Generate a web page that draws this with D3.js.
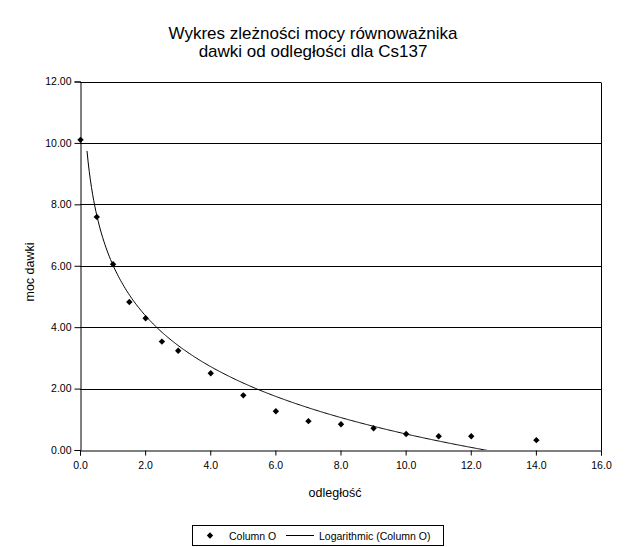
<!DOCTYPE html>
<html>
<head>
<meta charset="utf-8">
<script src="https://cdn.jsdelivr.net/npm/d3@7"></script>
<style>
  html, body { margin: 0; padding: 0; background: #fff; }
  svg { display: block; font-family: "Liberation Sans", Arial, sans-serif; }
</style>
</head>
<body>
<svg id="chart" width="630" height="547"></svg>
<script>
// ---- data ----
const distances = [0, 0.5, 1, 1.5, 2, 2.5, 3, 4, 5, 6, 7, 8, 9, 10, 11, 12, 14];
const doseRates = [10.10, 7.59, 6.05, 4.82, 4.29, 3.53, 3.23, 2.50, 1.78, 1.26, 0.94, 0.84, 0.71, 0.52, 0.45, 0.45, 0.32];
const xTicks = [0, 2, 4, 6, 8, 10, 12, 14, 16];
const yTicks = [0, 2, 4, 6, 8, 10, 12];
// logarithmic trendline y = a*ln(x) + b (coefficients)
const trendCoef = [-2.40, 6.05];
const trendRange = [0.215, 14];
const titleLines = ["Wykres zleżności mocy równoważnika", "dawki od odległości dla Cs137"];
const xTitle = "odległość";
const yTitle = "moc dawki";
const legendLabels = ["Column O", "Logarithmic (Column O)"];

// ---- layout ----
const svg = d3.select("#chart");
const L = 80, R = 601, T = 81.5, B = 450;
const x = d3.scaleLinear().domain([0, 16]).range([L, R]);
const y = d3.scaleLinear().domain([0, 12]).range([B, T]);

svg.append("rect").attr("width", 630).attr("height", 547).attr("fill", "#fff");

// title
svg.append("g").selectAll("text").data(titleLines).join("text")
  .attr("x", 313).attr("y", (d, i) => 38.5 + i * 18.5)
  .attr("text-anchor", "middle").attr("font-size", "17px").attr("fill", "#000")
  .text(d => d);

// gridlines
svg.append("g").selectAll("line").data(yTicks.filter(v => v > 0)).join("line")
  .attr("x1", L).attr("x2", R)
  .attr("y1", d => Math.round(y(d)) + 0.5).attr("y2", d => Math.round(y(d)) + 0.5)
  .attr("stroke", "#000").attr("stroke-width", 1);

// right border
svg.append("line").attr("x1", R + 0.5).attr("x2", R + 0.5)
  .attr("y1", Math.round(T) + 0.5).attr("y2", B + 0.5)
  .attr("stroke", "#000");

// axes
const yAxis = d3.axisLeft(y).tickValues(yTicks).tickFormat(d3.format(".2f")).tickSizeOuter(0).tickSize(6).tickPadding(3);
const gy = svg.append("g").attr("transform", `translate(${L + 0.5},0)`).call(yAxis);
gy.selectAll("text").attr("font-size", "10.5px").attr("fill", "#000").attr("font-family", "Liberation Sans, Arial, sans-serif");
gy.selectAll(".tick line").attr("stroke", "#000");
gy.select(".domain").attr("stroke", "#000");

const xAxis = d3.axisBottom(x).tickValues(xTicks).tickFormat(d3.format(".1f")).tickSizeOuter(0).tickSize(5).tickPadding(6);
const gx = svg.append("g").attr("transform", `translate(0,${B + 0.5})`).call(xAxis);
gx.selectAll("text").attr("font-size", "10.5px").attr("fill", "#000").attr("font-family", "Liberation Sans, Arial, sans-serif");
gx.selectAll(".tick line").attr("stroke", "#000");
gx.select(".domain").attr("stroke", "#000");

// axis titles
svg.append("text").attr("x", 335).attr("y", 497).attr("text-anchor", "middle")
  .attr("font-size", "12.5px").attr("fill", "#000").text(xTitle);
svg.append("text").attr("transform", `translate(34,272) rotate(-90)`)
  .attr("text-anchor", "middle").attr("font-size", "12.5px").attr("fill", "#000").text(yTitle);

// clip
svg.append("clipPath").attr("id", "plotclip").append("rect")
  .attr("x", L).attr("y", T).attr("width", R - L).attr("height", B - T);

// trendline
const nS = 400;
const trendPts = d3.range(nS + 1).map(i => {
  const xv = trendRange[0] + (trendRange[1] - trendRange[0]) * i / nS;
  return [xv, trendCoef[0] * Math.log(xv) + trendCoef[1]];
});
svg.append("path").attr("clip-path", "url(#plotclip)")
  .datum(trendPts)
  .attr("d", d3.line().x(d => x(d[0])).y(d => y(d[1])))
  .attr("fill", "none").attr("stroke", "#000").attr("stroke-width", 1);

// points
const diamond = "M0,-3.2L3.2,0L0,3.2L-3.2,0Z";
svg.append("g").selectAll("path").data(distances.map((d, i) => [d, doseRates[i]])).join("path")
  .attr("transform", d => `translate(${x(d[0]) + 0.5},${y(d[1])})`)
  .attr("d", diamond).attr("fill", "#000");

// legend
const lg = svg.append("g");
lg.append("rect").attr("x", 192.5).attr("y", 525.5).attr("width", 251).attr("height", 20)
  .attr("fill", "#fff").attr("stroke", "#000");
lg.append("path").attr("transform", "translate(210,535.5)").attr("d", diamond).attr("fill", "#000");
lg.append("text").attr("x", 229).attr("y", 539.5).attr("font-size", "10.5px").attr("fill", "#000").text(legendLabels[0]);
lg.append("line").attr("x1", 286).attr("x2", 314).attr("y1", 535.5).attr("y2", 535.5).attr("stroke", "#000");
lg.append("text").attr("x", 319).attr("y", 539.5).attr("font-size", "10.5px").attr("fill", "#000").text(legendLabels[1]);
</script>
</body>
</html>
